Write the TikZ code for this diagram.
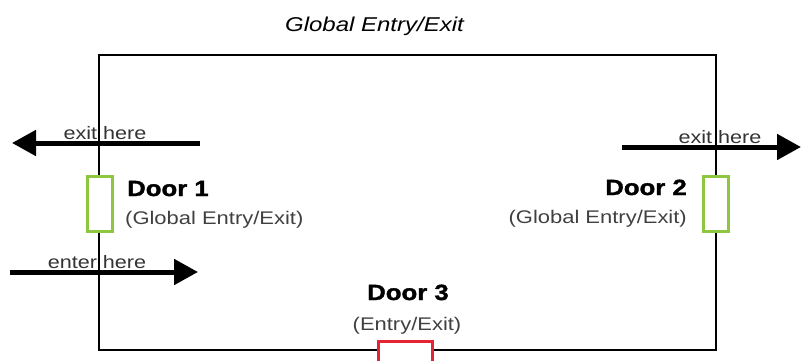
\documentclass[tikz,border=0pt]{standalone}
\usepackage{fontspec}
\setmainfont{Liberation Sans}[FakeStretch=1.2]
\newfontfamily\doorfont{Liberation Sans}[FakeStretch=1.17, BoldFeatures={FakeBold=1.5}]
\usetikzlibrary{arrows.meta, positioning, calc}

\definecolor{doorgreen}{RGB}{141,198,63}
\definecolor{doorred}{RGB}{228,36,52}

\begin{document}
\begin{tikzpicture}[
        x=1pt, y=-1pt,
        % Walls of the room
        wall/.style={
            rectangle,
            draw=black,
            line width=2.7pt,
            minimum width=617pt,
            minimum height=295pt,
            inner sep=0pt
        },
        % Doors sit on the walls
        door/.style={
            rectangle,
            draw=doorgreen,
            fill=white,
            line width=3pt,
            minimum width=25pt,
            minimum height=55pt,
            inner sep=0pt
        },
        bigarrow/.style={
            -{Triangle[length=24pt, width=25pt]},
            line width=5pt
        },
        hint/.style={font=\fontsize{18}{20}\selectfont, text=black!80, inner sep=0pt},
        doorname/.style={font=\fontsize{22}{24}\selectfont\doorfont\bfseries, inner sep=0pt},
        doortype/.style={font=\fontsize{18.3}{20}\selectfont, text=black!75, inner sep=0pt}
    ]
    \useasboundingbox (0,0) rectangle (801,361);

    % Title
    \node (title) [font=\fontsize{20}{22}\selectfont\itshape, anchor=base] at (374.5,32) {Global Entry/Exit};

    % The room
    \node (room) [wall] at (407.5,202.5) {};

    % Arrow ends
    \coordinate (exit1from) at (200,143);
    \coordinate (exit1to) at (12,143);
    \coordinate (enterfrom) at (10,272);
    \coordinate (enterto) at (198,272);
    \coordinate (exit2from) at (622,147);
    \coordinate (exit2to) at (801,147);

    % Draw the arrows
    \draw [bigarrow] (exit1from) -- (exit1to);
    \draw [bigarrow] (enterfrom) -- (enterto);
    \draw [bigarrow] (exit2from) -- (exit2to);

    \node (exit1lbl) [hint, anchor=base] at (105,139.5) {exit here};
    \node (enterlbl) [hint, anchor=base] at (97,268) {enter here};
    \node (exit2lbl) [hint, anchor=base] at (720,143.5) {exit here};

    % Draw the doors
    \node (door1) [door] at (100,204) {};
    \node (door2) [door] at (716,203.5) {};
    \node (door3) [door, draw=doorred, minimum width=54pt, minimum height=40pt] at (405.5,361.5) {};

    \node (door1name) [doorname, anchor=base west] at (127,196) {Door 1};
    \node (door1type) [doortype, anchor=base west] at ([shift={(-2,28)}]door1name.base west) {(Global Entry/Exit)};

    \node (door2name) [doorname, anchor=base east] at (687,195) {Door 2};
    \node (door2type) [doortype, anchor=base east] at ([shift={(0,28)}]door2name.base east) {(Global Entry/Exit)};

    \node (door3name) [doorname, anchor=base] at (408,300) {Door 3};
    \node (door3type) [doortype, anchor=base] at ([shift={(-1,30)}]door3name.base) {(Entry/Exit)};

\end{tikzpicture}
\end{document}
